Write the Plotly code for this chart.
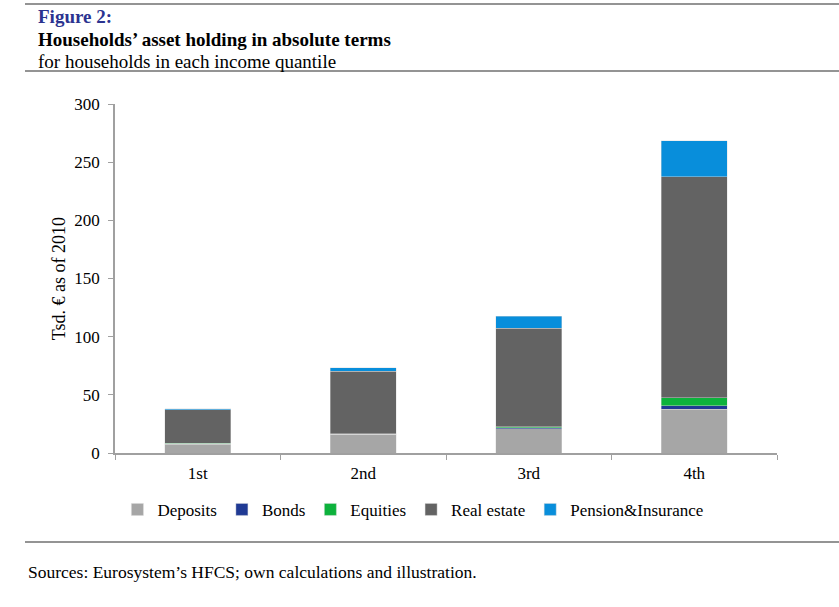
import plotly.graph_objects as go

categories = ["1st", "2nd", "3rd", "4th"]
deposits = [7.7, 16.0, 21.0, 37.5]
bonds = [0.2, 0.3, 0.6, 3.0]
equities = [0.3, 0.4, 1.0, 7.0]
real_estate = [29.0, 53.5, 84.5, 190.0]
pension = [1.0, 3.3, 10.5, 31.0]

series = [
    ("Deposits", deposits, "#A6A6A6"),
    ("Bonds", bonds, "#203A94"),
    ("Equities", equities, "#0DB23C"),
    ("Real estate", real_estate, "#636363"),
    ("Pension&Insurance", pension, "#088EDB"),
]

FONT = "Liberation Serif"

fig = go.Figure()
for name, vals, col in series:
    fig.add_trace(go.Bar(
        x=categories, y=vals, name=name,
        marker=dict(color=col, line=dict(color="rgba(220,220,220,0.7)", width=0.6)),
        width=0.4,
    ))

fig.update_layout(
    barmode="stack",
    width=839, height=607,
    paper_bgcolor="white", plot_bgcolor="white",
    margin=dict(l=115, r=62, t=104, b=154, autoexpand=False),
    font=dict(family=FONT, size=17, color="black"),
    showlegend=True,
    legend=dict(orientation="h", x=0.45, xanchor="center", y=-0.163, yanchor="middle",
                font=dict(family=FONT, size=17), traceorder="normal",
                itemwidth=30, tracegroupgap=0, bgcolor="rgba(0,0,0,0)"),
    xaxis=dict(
        type="category", showline=True, linecolor="#A0A0A0", linewidth=1.5,
        ticks="outside", tickson="boundaries", ticklen=5, tickcolor="#A0A0A0",
        tickfont=dict(family=FONT, size=17), showgrid=False, range=[-0.5, 3.5],
        ticklabelstandoff=4,
    ),
    yaxis=dict(
        range=[0, 300], dtick=50, showline=True, linecolor="#A0A0A0", linewidth=1.5,
        ticks="outside", ticklen=5, tickcolor="#A0A0A0", showgrid=False, zeroline=False,
        tickfont=dict(family=FONT, size=17), ticklabelstandoff=5,
        title=dict(text="Tsd. € as of 2010", font=dict(family=FONT, size=18), standoff=4),
    ),
)

# header and footer rules
for yy in [4, 71, 542]:
    fig.add_shape(type="line", xref="paper", yref="paper",
                  x0=(25 - 115) / 662, x1=(839 - 115) / 662,
                  y0=(453 - yy) / 349, y1=(453 - yy) / 349,
                  line=dict(color="#707070", width=1.5))

def ytext(py):
    return (453 - py) / 349

xl = (36 - 115) / 662
fig.add_annotation(text="<b>Figure 2:</b>", xref="paper", yref="paper", x=xl, y=ytext(16),
                   xanchor="left", yanchor="middle", showarrow=False,
                   font=dict(family=FONT, size=19, color="#2B3390"))
fig.add_annotation(text="<b>Households’ asset holding in absolute terms</b>", xref="paper", yref="paper",
                   x=xl, y=ytext(40), xanchor="left", yanchor="middle", showarrow=False,
                   font=dict(family=FONT, size=19, color="black"))
fig.add_annotation(text="for households in each income quantile", xref="paper", yref="paper",
                   x=xl, y=ytext(61), xanchor="left", yanchor="middle", showarrow=False,
                   font=dict(family=FONT, size=19, color="black"))
fig.add_annotation(text="Sources: Eurosystem’s HFCS; own calculations and illustration.", xref="paper", yref="paper",
                   x=(26 - 115) / 662, y=ytext(572), xanchor="left", yanchor="middle", showarrow=False,
                   font=dict(family=FONT, size=17.5, color="black"))

fig.write_html("out.html", config={"displayModeBar": False},
               post_script="document.body.style.margin='0';document.body.style.overflow='hidden';")
